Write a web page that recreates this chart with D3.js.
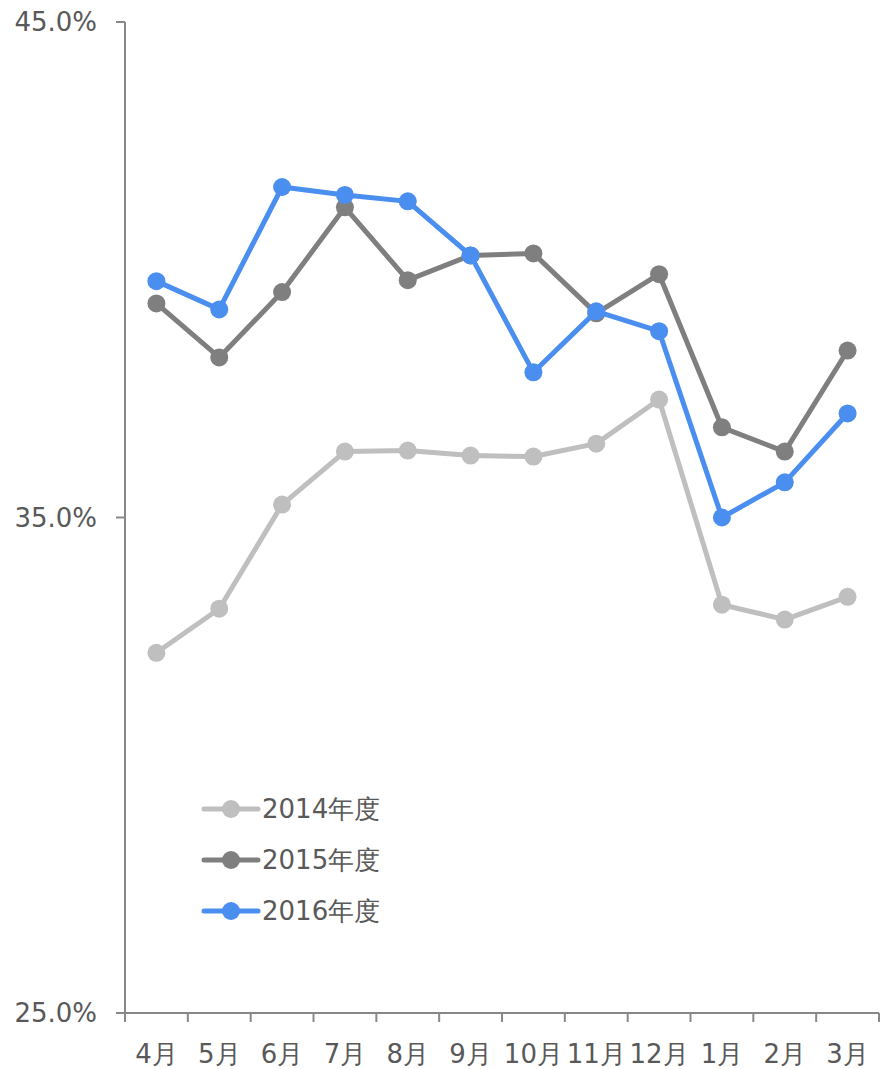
<!DOCTYPE html>
<html><head><meta charset="utf-8">
<script src="https://cdn.jsdelivr.net/npm/d3@7"></script>
<style>body{margin:0;background:#fff}svg{display:block}</style>
</head><body>
<script>
const categories = ["4月","5月","6月","7月","8月","9月","10月","11月","12月","1月","2月","3月"];
const seriesNames = ["2014年度","2015年度","2016年度"];
const values2014 = [32.27,33.16,35.26,36.33,36.35,36.25,36.23,36.49,37.38,33.24,32.94,33.40];
const values2015 = [39.32,38.23,39.55,41.26,39.79,40.29,40.33,39.12,39.91,36.82,36.33,38.37];
const values2016 = [39.77,39.20,41.67,41.51,41.38,40.29,37.93,39.16,38.76,35.00,35.71,37.10];
const yTicks = [25,35,45];
const colors = ["#BFBFBF","#7F7F7F","#4A8EF0"];

const W=881,H=1069;
const svg=d3.select("body").append("svg").attr("width",W).attr("height",H);
const x=d3.scaleBand().domain(categories).range([125,879]);
const y=d3.scaleLinear().domain([25,45]).range([1013,22]);
const font='Verdana, "DejaVu Sans", sans-serif';
const textColor="#595959", axisColor="#888";
const fs=26;

// y axis
svg.append("line").attr("x1",125).attr("x2",125).attr("y1",y(45)).attr("y2",y(25)).attr("stroke",axisColor).attr("stroke-width",2);
yTicks.forEach(t=>{
  svg.append("line").attr("x1",116).attr("x2",125).attr("y1",y(t)).attr("y2",y(t)).attr("stroke",axisColor).attr("stroke-width",2);
  svg.append("text").attr("x",97).attr("y",y(t)).attr("dy","0.35em").attr("text-anchor","end")
    .attr("font-family",font).attr("font-size",fs).attr("fill",textColor).text(t.toFixed(1)+"%");
});
// x axis
svg.append("line").attr("x1",125).attr("x2",879).attr("y1",y(25)).attr("y2",y(25)).attr("stroke",axisColor).attr("stroke-width",2);
const bounds=categories.map(c=>x(c)).concat([879]);
bounds.forEach(b=>{
  svg.append("line").attr("x1",b).attr("x2",b).attr("y1",y(25)).attr("y2",y(25)+9).attr("stroke",axisColor).attr("stroke-width",2);
});
categories.forEach(c=>{
  svg.append("text").attr("x",x(c)+x.bandwidth()/2).attr("y",1063).attr("text-anchor","middle")
    .attr("font-family",font).attr("font-size",fs).attr("fill",textColor).text(c);
});

const all=[values2014,values2015,values2016];
const line=d3.line().x((d,i)=>x(categories[i])+x.bandwidth()/2).y(d=>y(d));
all.forEach((vals,k)=>{
  const g=svg.append("g");
  g.append("path").attr("d",line(vals)).attr("fill","none").attr("stroke",colors[k]).attr("stroke-width",5).attr("stroke-linejoin","round");
  g.selectAll("circle").data(vals).enter().append("circle")
    .attr("cx",(d,i)=>x(categories[i])+x.bandwidth()/2).attr("cy",d=>y(d)).attr("r",9).attr("fill",colors[k]);
});

// legend
seriesNames.forEach((n,k)=>{
  const ly=809+k*51;
  svg.append("line").attr("x1",204).attr("x2",258).attr("y1",ly).attr("y2",ly).attr("stroke",colors[k]).attr("stroke-width",5).attr("stroke-linecap","round");
  svg.append("circle").attr("cx",231).attr("cy",ly).attr("r",9).attr("fill",colors[k]);
  svg.append("text").attr("x",262).attr("y",ly).attr("dy","0.35em").attr("font-family",font).attr("font-size",fs).attr("fill",textColor).text(n);
});
</script>
</body></html>
